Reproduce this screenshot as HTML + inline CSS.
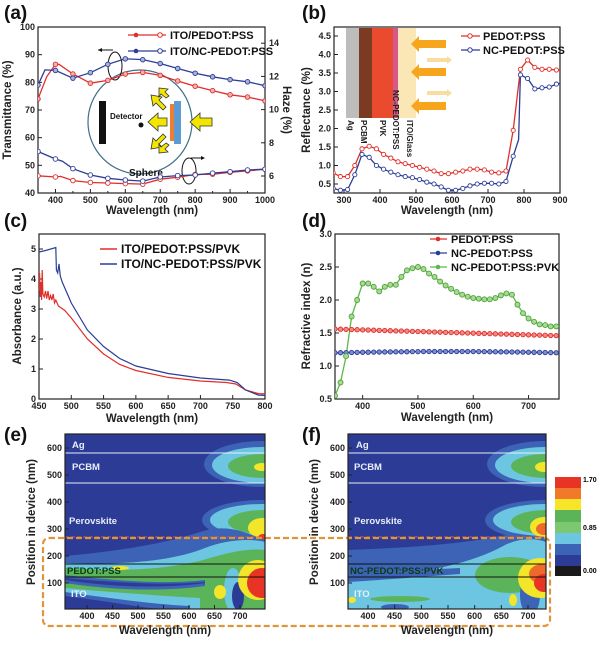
<!DOCTYPE html>
<html><head><meta charset="utf-8"><style>
body{margin:0;background:#fff}
svg{display:block;font-family:"Liberation Sans",Arial,sans-serif;font-weight:bold}
.t{font-size:9px;fill:#222}
.ax{fill:none;stroke:#222;stroke-width:1.2}
.lab{font-size:11.5px;fill:#222}
.pl{font-size:19px;fill:#111}
.lg{font-size:11px;fill:#111}
</style></head><body>
<svg id="s" width="600" height="653" viewBox="0 0 600 653" xmlns="http://www.w3.org/2000/svg">
<defs>
<clipPath id="ca"><rect x="38" y="27" width="227" height="166"/></clipPath>
<clipPath id="cb"><rect x="334" y="27" width="226" height="166"/></clipPath>
<clipPath id="cc"><rect x="39" y="234" width="226" height="165"/></clipPath>
<clipPath id="cd"><rect x="335" y="234" width="224" height="165"/></clipPath>
<clipPath id="ce"><rect x="65" y="434" width="200" height="175"/></clipPath>
<clipPath id="cf"><rect x="348" y="434" width="198" height="175"/></clipPath>
</defs>

<!-- panel labels -->
<text class="pl" x="4" y="19">(a)</text>
<text class="pl" x="302" y="19">(b)</text>
<text class="pl" x="4" y="227">(c)</text>
<text class="pl" x="302" y="227">(d)</text>
<text class="pl" x="4" y="441">(e)</text>
<text class="pl" x="302" y="441">(f)</text>

<!-- (a) inset -->
<g id="inA">
<circle cx="140" cy="122" r="52" fill="none" stroke="#3f6f8a" stroke-width="1.2"/>
<rect x="99" y="101" width="7" height="43" fill="#111"/>
<rect x="174" y="101" width="7" height="43" fill="#5b9bd5"/>
<rect x="170" y="104" width="4" height="37" fill="#ee7d31"/>
<circle cx="141" cy="125" r="2.5" fill="#111"/>
<text x="110" y="119" style="font-size:8px" fill="#111">Detector</text>
<text x="129" y="176" style="font-size:10px" fill="#111">Sphere</text>
<path d="M212 118 h-12 v-5 l-10 9 l10 9 v-5 h12z" fill="#f2e600" stroke="#333" stroke-width=".8"/>
<path d="M167 118 h-9 v-5 l-10 9 l10 9 v-5 h9z" fill="#f2e600" stroke="#333" stroke-width=".8"/>
<path d="M163 110 l-7 -7 l-3 3 l-2 -11 l11 2 l-3 3 l7 7z" fill="#f2e600" stroke="#333" stroke-width=".8"/>
<path d="M166 98 l-5 -4 l-2 3 l0 -9 l9 1 l-3 3 l4 4z" fill="#f2e600" stroke="#333" stroke-width=".8"/>
<path d="M163 134 l-7 7 l-3 -3 l-2 11 l11 -2 l-3 -3 l7 -7z" fill="#f2e600" stroke="#333" stroke-width=".8"/>
<path d="M166 143 l-5 4 l-2 -3 l0 9 l9 -1 l-3 -3 l4 -4z" fill="#f2e600" stroke="#333" stroke-width=".8"/>
<ellipse cx="115" cy="66" rx="7" ry="14" fill="none" stroke="#111" stroke-width="1"/>
<path d="M113 50 h-15" stroke="#111" fill="none"/><path d="M98 50 l4 -2 v4z" fill="#111"/>
<ellipse cx="189" cy="171" rx="7" ry="13" fill="none" stroke="#111" stroke-width="1"/>
<path d="M191 158 h12" stroke="#111"/><path d="M205 158 l-4 -2 v4z" fill="#111"/>
</g>

<!-- (b) inset -->
<rect x="346" y="28" width="13" height="90" fill="#bdbdbd"/>
<rect x="359" y="28" width="13" height="90" fill="#7b3b22"/>
<rect x="372" y="28" width="21" height="90" fill="#ea4a2e"/>
<rect x="393" y="28" width="5" height="90" fill="#d6588c"/>
<rect x="398" y="28" width="18" height="90" fill="#fbe7b6"/>
<g style="font-size:8px" fill="#222">
<text transform="translate(348,120) rotate(90)">Ag</text>
<text transform="translate(361,120) rotate(90)">PCBM</text>
<text transform="translate(380,120) rotate(90)">PVK</text>
<text transform="translate(393,90) rotate(90)">NC-PEDOT:PSS</text>
<text transform="translate(407,120) rotate(90)">ITO/Glass</text>
</g>
<g fill="#f7a51c">
<path d="M446 40 h-27 v-4 l-8 8 l8 8 v-4 h27z"/>
<path d="M446 68 h-27 v-4 l-8 8 l8 8 v-4 h27z"/>
<path d="M446 102 h-27 v-4 l-8 8 l8 8 v-4 h27z"/>
</g>
<g fill="#f8dca0">
<path d="M427 58 h20 v-2 l5 4 l-5 4 v-2 h-20z"/>
<path d="M427 91 h20 v-2 l5 4 l-5 4 v-2 h-20z"/>
</g>

<!-- contour plots -->
<g id="E" clip-path="url(#ce)">
<rect x="65" y="434" width="200" height="175" fill="#2c3c96"/>
<!-- PCBM blob -->
<ellipse cx="262" cy="464" rx="58" ry="23" fill="#3c63b6"/>
<ellipse cx="262" cy="465" rx="50" ry="18" fill="#6cc6e2"/>
<ellipse cx="264" cy="466" rx="36" ry="12" fill="#5bb45a"/>
<ellipse cx="262" cy="467" rx="8" ry="4" fill="#f3e52a"/>
<!-- Perovskite blob -->
<ellipse cx="262" cy="520" rx="60" ry="20" fill="#3c63b6"/>
<ellipse cx="262" cy="520" rx="52" ry="16" fill="#6cc6e2"/>
<ellipse cx="264" cy="522" rx="36" ry="12" fill="#5bb45a"/>
<ellipse cx="265" cy="537" rx="14" ry="14" fill="#3c63b6"/>
<ellipse cx="262" cy="528" rx="14" ry="10" fill="#f3e52a"/>
<ellipse cx="263" cy="538" rx="5" ry="4" fill="#e73425"/>
<!-- lower region -->
<path d="M65 556 C110 552 160 545 200 532 C230 522 250 535 265 540 V609 H65Z" fill="#3c63b6"/>
<path d="M65 563 C120 565 170 562 205 548 C225 540 250 538 265 542 V609 H65Z" fill="#6cc6e2"/>
<path d="M65 568 C120 572 170 570 210 558 C230 552 250 548 265 550 V609 H65Z" fill="#5bb45a"/>
<path d="M65 588 C110 592 160 596 200 598 L200 609 H65Z" fill="#6cc6e2"/>
<path d="M65 592 C110 598 150 604 190 606 L190 609 H65Z" fill="#3c63b6"/>
<path d="M65 596 C100 600 130 606 160 609 H65Z" fill="#2c3c96"/>
<path d="M65 575 C110 580 160 585 205 580 L205 586 C160 592 110 590 65 583Z" fill="#3c63b6"/>
<path d="M65 578 C110 582 160 586 205 582 L205 583 C160 589 110 587 65 580Z" fill="#2c3c96"/>
<ellipse cx="233" cy="590" rx="9" ry="22" fill="#6cc6e2"/>
<ellipse cx="238" cy="596" rx="6" ry="14" fill="#2c3c96"/>
<ellipse cx="220" cy="592" rx="6" ry="7" fill="#f3e52a"/>
<ellipse cx="120" cy="568" rx="9" ry="2" fill="#f3e52a"/>
<ellipse cx="258" cy="580" rx="20" ry="20" fill="#f3e52a"/>
<ellipse cx="262" cy="583" rx="15" ry="15" fill="#e73425"/>
<path d="M65 537 H265" stroke="#e0524a" stroke-width="1" stroke-dasharray="4 2"/>
<path d="M65 453 H265 M65 483 H265" stroke="#e8eef8" stroke-width="1"/>
<path d="M65 564 H265 M65 577 H265" stroke="#111" stroke-width="1"/>
</g>
<g fill="#e8eef8" style="font-size:9.5px">
<text x="72" y="448">Ag</text><text x="72" y="470">PCBM</text><text x="69" y="524">Perovskite</text><text x="71" y="597">ITO</text>
</g>
<text x="67" y="574" style="font-size:9.5px" fill="#0c3a10">PEDOT:PSS</text>

<g id="F" clip-path="url(#cf)">
<rect x="348" y="434" width="198" height="175" fill="#2c3c96"/>
<ellipse cx="545" cy="464" rx="58" ry="23" fill="#3c63b6"/>
<ellipse cx="545" cy="465" rx="50" ry="18" fill="#6cc6e2"/>
<ellipse cx="547" cy="466" rx="36" ry="12" fill="#5bb45a"/>
<ellipse cx="544" cy="467" rx="9" ry="5" fill="#f3e52a"/>
<ellipse cx="545" cy="520" rx="60" ry="20" fill="#3c63b6"/>
<ellipse cx="545" cy="520" rx="52" ry="16" fill="#6cc6e2"/>
<ellipse cx="547" cy="522" rx="36" ry="12" fill="#5bb45a"/>
<ellipse cx="544" cy="527" rx="14" ry="10" fill="#f3e52a"/>
<ellipse cx="544" cy="529" rx="8" ry="6" fill="#ef6a2a"/>
<path d="M348 550 C400 548 450 545 490 538 C515 532 530 535 546 538 V609 H348Z" fill="#3c63b6"/>
<path d="M348 578 C400 575 460 570 505 545 C520 538 535 538 546 542 V609 H348Z" fill="#6cc6e2"/>
<path d="M348 575 C380 572 420 570 460 568 L460 574 C420 577 380 580 348 582Z" fill="#3c63b6"/>
<ellipse cx="400" cy="599" rx="30" ry="3" fill="#5bb45a"/>
<ellipse cx="395" cy="607" rx="14" ry="3" fill="#3c63b6"/>
<ellipse cx="352" cy="600" rx="4" ry="3" fill="#f3e52a"/>
<ellipse cx="510" cy="575" rx="35" ry="18" fill="#5bb45a"/>
<ellipse cx="513" cy="600" rx="4" ry="6" fill="#f3e52a"/>
<ellipse cx="530" cy="595" rx="10" ry="20" fill="#3c63b6"/>
<ellipse cx="540" cy="578" rx="22" ry="20" fill="#f3e52a"/>
<ellipse cx="543" cy="574" rx="14" ry="10" fill="#ef6a2a"/>
<ellipse cx="544" cy="583" rx="10" ry="9" fill="#e73425"/>
<path d="M348 537 H546" stroke="#e0524a" stroke-width="1" stroke-dasharray="4 2"/>
<path d="M348 453 H546 M348 483 H546" stroke="#e8eef8" stroke-width="1"/>
<path d="M348 564 H546 M348 577 H546" stroke="#111" stroke-width="1"/>
</g>
<g fill="#e8eef8" style="font-size:9.5px">
<text x="356" y="448">Ag</text><text x="354" y="470">PCBM</text><text x="354" y="524">Perovskite</text><text x="354" y="597">ITO</text>
</g>
<text x="350" y="574" style="font-size:9.5px" fill="#0c3a10">NC-PEDOT:PSS:PVK</text>

<!-- colorbar -->
<g>
<rect x="555" y="477" width="26" height="12" fill="#e73425"/>
<rect x="555" y="488" width="26" height="11" fill="#f07a2a"/>
<rect x="555" y="499" width="26" height="11" fill="#f7e52a"/>
<rect x="555" y="510" width="26" height="12" fill="#5bb45a"/>
<rect x="555" y="522" width="26" height="11" fill="#7cc870"/>
<rect x="555" y="533" width="26" height="11" fill="#6cc6e2"/>
<rect x="555" y="544" width="26" height="11" fill="#3c63b6"/>
<rect x="555" y="555" width="26" height="11" fill="#2c3c96"/>
<rect x="555" y="566" width="26" height="10" fill="#1a1a1a"/>
<text x="583" y="482" style="font-size:7px">1.70</text>
<text x="583" y="530" style="font-size:7px">0.85</text>
<text x="583" y="573" style="font-size:7px">0.00</text>
</g>

<!-- orange dashed box -->
<rect x="43" y="538" width="507" height="88" rx="6" fill="none" stroke="#e0953a" stroke-width="2.2" stroke-dasharray="6 3"/>

<g id="dyn"></g>
</svg>
<script>
var S=document.getElementById('dyn'),NS='http://www.w3.org/2000/svg';
function el(t,a,txt){var e=document.createElementNS(NS,t);for(var k in a)e.setAttribute(k,a[k]);if(txt!=null)e.textContent=txt;S.appendChild(e);return e;}
function axes(x0,y0,x1,y1){el('rect',{x:x0,y:y0,width:x1-x0,height:y1-y0,'class':'ax'});}
function xt(vals,fx,y,minor){vals.forEach(function(v){var x=fx(v);el('line',{x1:x,x2:x,y1:y,y2:y-4,stroke:'#222'});el('text',{x:x,y:y+10,'class':'t','text-anchor':'middle'},String(v));});}
function yt(vals,fy,x,fmt){vals.forEach(function(v){var y=fy(v);el('line',{x1:x,x2:x+4,y1:y,y2:y,stroke:'#222'});el('text',{x:x-3,y:y+3,'class':'t','text-anchor':'end'},fmt?v.toFixed(fmt):String(v));});}
function path(pts,fx,fy,col,clip,w){var d=pts.map(function(p,i){return(i?'L':'M')+fx(p[0]).toFixed(1)+' '+fy(p[1]).toFixed(1);}).join('');el('path',{d:d,fill:'none',stroke:col,'stroke-width':w||1.3,'clip-path':'url(#'+clip+')'});}
function marks(pts,fx,fy,col,fill,clip,r){pts.forEach(function(p){el('circle',{cx:fx(p[0]),cy:fy(p[1]),r:r||2.3,fill:fill,stroke:col,'stroke-width':0.9,'clip-path':'url(#'+clip+')'});});}
function smooth(pts,step){var out=[];for(var i=0;i<pts.length-1;i++){var a=pts[i],b=pts[i+1];for(var x=a[0];x<b[0];x+=step){var t=(x-a[0])/(b[0]-a[0]);out.push([x,a[1]+(b[1]-a[1])*t]);}}out.push(pts[pts.length-1]);return out;}
var R='#e02f2a',B='#2b3d96',G='#5cb848';
// ---- (a)
var ax=function(l){return 38+(l-350)*227/650},ay=function(v){return 27+(100-v)*166/60};
axes(38,27,265,193);
xt([400,500,600,700,800,900,1000],ax,193);
[350,450,550,650,750,850,950].forEach(function(v){el('line',{x1:ax(v),x2:ax(v),y1:193,y2:191,stroke:'#222'});});
yt([40,50,60,70,80,90,100],ay,38);
[14,12,10,8,6].forEach(function(v){var y=176-(v-6)*16.6;el('line',{x1:265,x2:261,y1:y,y2:y,stroke:'#222'});el('text',{x:269,y:y+3,'class':'t'},String(v));});
var aRT=[[350,74],[375,82],[400,86.5],[410,86.5],[450,83],[500,79.7],[550,80.7],[600,83],[650,83.6],[700,82.5],[750,80.5],[800,78.6],[850,77],[900,75.5],[950,74.7],[1000,73.3]];
var aBT=[[350,79],[370,84.5],[400,84.3],[450,81.5],[500,83.5],[550,86.5],[600,88.5],[650,88.2],[700,86.8],[750,85],[800,83.3],[850,82],[900,81],[950,80.2],[1000,78.8]];
var aRH=[[350,46.2],[400,45.8],[415,46],[450,44.5],[500,43.8],[550,43.6],[600,43.4],[650,43.2],[700,45],[750,45.7],[800,46.7],[850,46.8],[900,47.5],[950,48],[1000,48.6]];
var aBH=[[350,55],[400,52.3],[420,51.5],[450,48.8],[500,46.5],[550,45.3],[600,44.7],[650,44.3],[700,45.8],[750,46.3],[800,46.5],[850,47.2],[900,47.7],[950,48.3],[1000,48.6]];
path(aRH,ax,ay,R,'ca');path(aBH,ax,ay,B,'ca');path(aRT,ax,ay,R,'ca');path(aBT,ax,ay,B,'ca');
function every50(a){return a.filter(function(p){return p[0]%50==0;});}
marks(every50(aRT),ax,ay,R,'#f3b0ae','ca');marks(every50(aBT),ax,ay,B,'#a9b1d8','ca');
marks(every50(aRH),ax,ay,R,'#fff','ca');marks(every50(aBH),ax,ay,B,'#fff','ca');
el('text',{'class':'lab',transform:'translate(11,110) rotate(-90)','text-anchor':'middle'},'Transmittance (%)');
el('text',{'class':'lab',transform:'translate(283,110) rotate(90)','text-anchor':'middle'},'Haze (%)');
el('text',{'class':'lab',x:152,y:214,'text-anchor':'middle'},'Wavelength (nm)');
[[35,R,'ITO/PEDOT:PSS'],[51,B,'ITO/NC-PEDOT:PSS']].forEach(function(l){el('line',{x1:128,x2:166,y1:l[0],y2:l[0],stroke:l[1],'stroke-width':1.3});el('circle',{cx:136,cy:l[0],r:2.3,fill:l[1]});el('circle',{cx:160,cy:l[0],r:2.3,fill:'#fff',stroke:l[1]});el('text',{'class':'lg',x:170,y:l[0]+4},l[2]);});
// ---- (b)
var bx=function(l){return 344+(l-300)*0.36},by=function(v){return 184-(v-0.5)*37};
axes(334,27,560,193);
xt([300,400,500,600,700,800,900],bx,193);
yt([0.5,1.0,1.5,2.0,2.5,3.0,3.5,4.0,4.5],by,334,1);
var bR=[[250,.85],[270,.8],[290,.7],[310,.7],[330,1.0],[350,1.45],[370,1.52],[390,1.45],[410,1.3],[430,1.2],[450,1.1],[470,1.05],[490,1.0],[510,.95],[530,.9],[550,.85],[570,.78],[590,.78],[610,.82],[630,.85],[650,.9],[670,.9],[690,.88],[710,.82],[730,.8],[750,.85],[770,1.95],[790,3.6],[810,3.85],[830,3.65],[850,3.6],[870,3.6],[890,3.58],[900,3.57]];
var bB=[[250,.45],[270,.38],[290,.33],[310,.35],[330,.75],[350,1.3],[370,1.22],[390,1.0],[410,.9],[430,.82],[450,.75],[470,.7],[490,.67],[510,.62],[530,.55],[550,.5],[570,.42],[590,.33],[610,.33],[630,.38],[650,.45],[670,.5],[690,.52],[710,.52],[730,.5],[750,.57],[770,1.25],[785,1.7],[790,3.45],[810,3.35],[830,3.07],[850,3.1],[870,3.12],[890,3.2],[900,3.22]];
path(bR,bx,by,R,'cb');path(bB,bx,by,B,'cb');
marks(bR.filter(function(p){return p[0]%20==10||p[0]==790;}),bx,by,R,'#fff','cb',2.1);
marks(bB.filter(function(p){return p[0]%20==10;}),bx,by,B,'#fff','cb',2.1);
el('text',{'class':'lab',transform:'translate(310,110) rotate(-90)','text-anchor':'middle'},'Reflectance (%)');
el('text',{'class':'lab',x:447,y:214,'text-anchor':'middle'},'Wavelength (nm)');
[[36,R,'PEDOT:PSS'],[50,B,'NC-PEDOT:PSS']].forEach(function(l){el('line',{x1:461,x2:480,y1:l[0],y2:l[0],stroke:l[1],'stroke-width':1.3});el('circle',{cx:470,cy:l[0],r:2.2,fill:'#fff',stroke:l[1]});el('text',{'class':'lg',x:483,y:l[0]+4},l[2]);});
// ---- (c)
var cx=function(l){return 39+(l-450)*226/350},cy=function(v){return 399-v*30};
axes(39,234,265,399);
xt([450,500,550,600,650,700,750,800],cx,399);
yt([0,1,2,3,4,5],cy,39);
var cR=[[450,3.6],[451,4.2],[452,3.4],[453,3.9],[454,3.3],[455,4.3],[456,3.5],[458,3.4],[460,3.6],[462,3.35],[464,3.6],[466,3.3],[468,3.45],[470,3.3],[472,3.5],[474,3.2],[476,3.3],[480,3.1],[490,2.95],[500,2.7],[525,2.0],[550,1.5],[575,1.15],[600,.95],[650,.72],[700,.6],[740,.55],[755,.5],[770,.3],[790,.18],[800,.17]];
var cB=[[450,4.9],[460,4.95],[476,5.05],[477,4.3],[479,4.2],[481,4.5],[483,4.1],[486,3.9],[490,3.7],[495,3.45],[500,3.2],[525,2.3],[550,1.75],[575,1.35],[600,1.1],[650,.85],[700,.7],[745,.63],[757,.55],[770,.3],[790,.13],[800,.12]];
path(cR,cx,cy,R,'cc',1.2);path(cB,cx,cy,B,'cc',1.2);
el('text',{'class':'lab',transform:'translate(21,316) rotate(-90)','text-anchor':'middle'},'Absorbance (a.u.)');
el('text',{'class':'lab',x:152,y:422,'text-anchor':'middle'},'Wavelength (nm)');
[[249,R,'ITO/PEDOT:PSS/PVK'],[264,B,'ITO/NC-PEDOT:PSS/PVK']].forEach(function(l){el('line',{x1:100,x2:117,y1:l[0],y2:l[0],stroke:l[1],'stroke-width':1.5});el('text',{'class':'lg',x:121,y:l[0]+4,style:'font-size:12px'},l[2]);});
// ---- (d)
var dx=function(l){return 335+(l-350)*0.553},dy=function(v){return 399-(v-0.5)*66};
axes(335,234,559,399);
xt([400,500,600,700],dx,399);
yt([0.5,1.0,1.5,2.0,2.5,3.0],dy,335,1);
var dR=[],dB=[];for(var l=350;l<=750;l+=10){dR.push([l,1.56-(l-350)*0.00025]);dB.push([l,1.2+0.02*Math.sin((l-350)/130)]);}
var dG=[[350,.55],[360,.75],[370,1.15],[380,1.75],[390,2.0],[400,2.25],[410,2.25],[420,2.2],[430,2.13],[440,2.2],[450,2.23],[460,2.23],[470,2.35],[480,2.45],[490,2.48],[500,2.5],[510,2.47],[520,2.4],[530,2.35],[540,2.28],[550,2.22],[560,2.17],[570,2.12],[580,2.08],[590,2.05],[600,2.03],[610,2.02],[620,2.01],[630,2.01],[640,2.03],[650,2.07],[660,2.1],[670,2.08],[680,1.93],[690,1.8],[700,1.72],[710,1.67],[720,1.63],[730,1.62],[740,1.6],[750,1.6]];
path(dR,dx,dy,R,'cd');path(dB,dx,dy,B,'cd');path(dG,dx,dy,G,'cd');
marks(dR,dx,dy,R,'#f08a86','cd',2.2);marks(dB,dx,dy,B,'#7d8ccc','cd',2.2);marks(dG,dx,dy,'#4aa33a','#a7d98e','cd',2.5);
el('text',{'class':'lab',transform:'translate(310,316) rotate(-90)','text-anchor':'middle'},'Refractive index (n)');
el('text',{'class':'lab',x:447,y:421,'text-anchor':'middle'},'Wavelength (nm)');
[[239,R,'PEDOT:PSS'],[253,B,'NC-PEDOT:PSS'],[267,G,'NC-PEDOT:PSS:PVK']].forEach(function(l){el('line',{x1:430,x2:447,y1:l[0],y2:l[0],stroke:l[1],'stroke-width':1.3});el('circle',{cx:438,cy:l[0],r:2.3,fill:l[1]});el('text',{'class':'lg',x:451,y:l[0]+4},l[2]);});
// ---- (e),(f)
function contourAxes(x0,x1,f400,f700,lbx,title){axes(x0,434,x1,609);var fx=function(v){return f400+(v-400)*(f700-f400)/300};
xt([400,450,500,550,600,650,700],fx,609);
var fy=function(v){return 610-v*0.27};yt([100,200,300,400,500,600],fy,x0);
el('text',{'class':'lab',transform:'translate('+lbx+',522) rotate(-90)','text-anchor':'middle'},title);
el('text',{'class':'lab',x:(x0+x1)/2,y:634,'text-anchor':'middle'},'Wavelength (nm)');}
contourAxes(65,265,87,240,35,'Position in device (nm)');
contourAxes(348,546,368,528,318,'Position in device (nm)');
</script>
</body></html>
